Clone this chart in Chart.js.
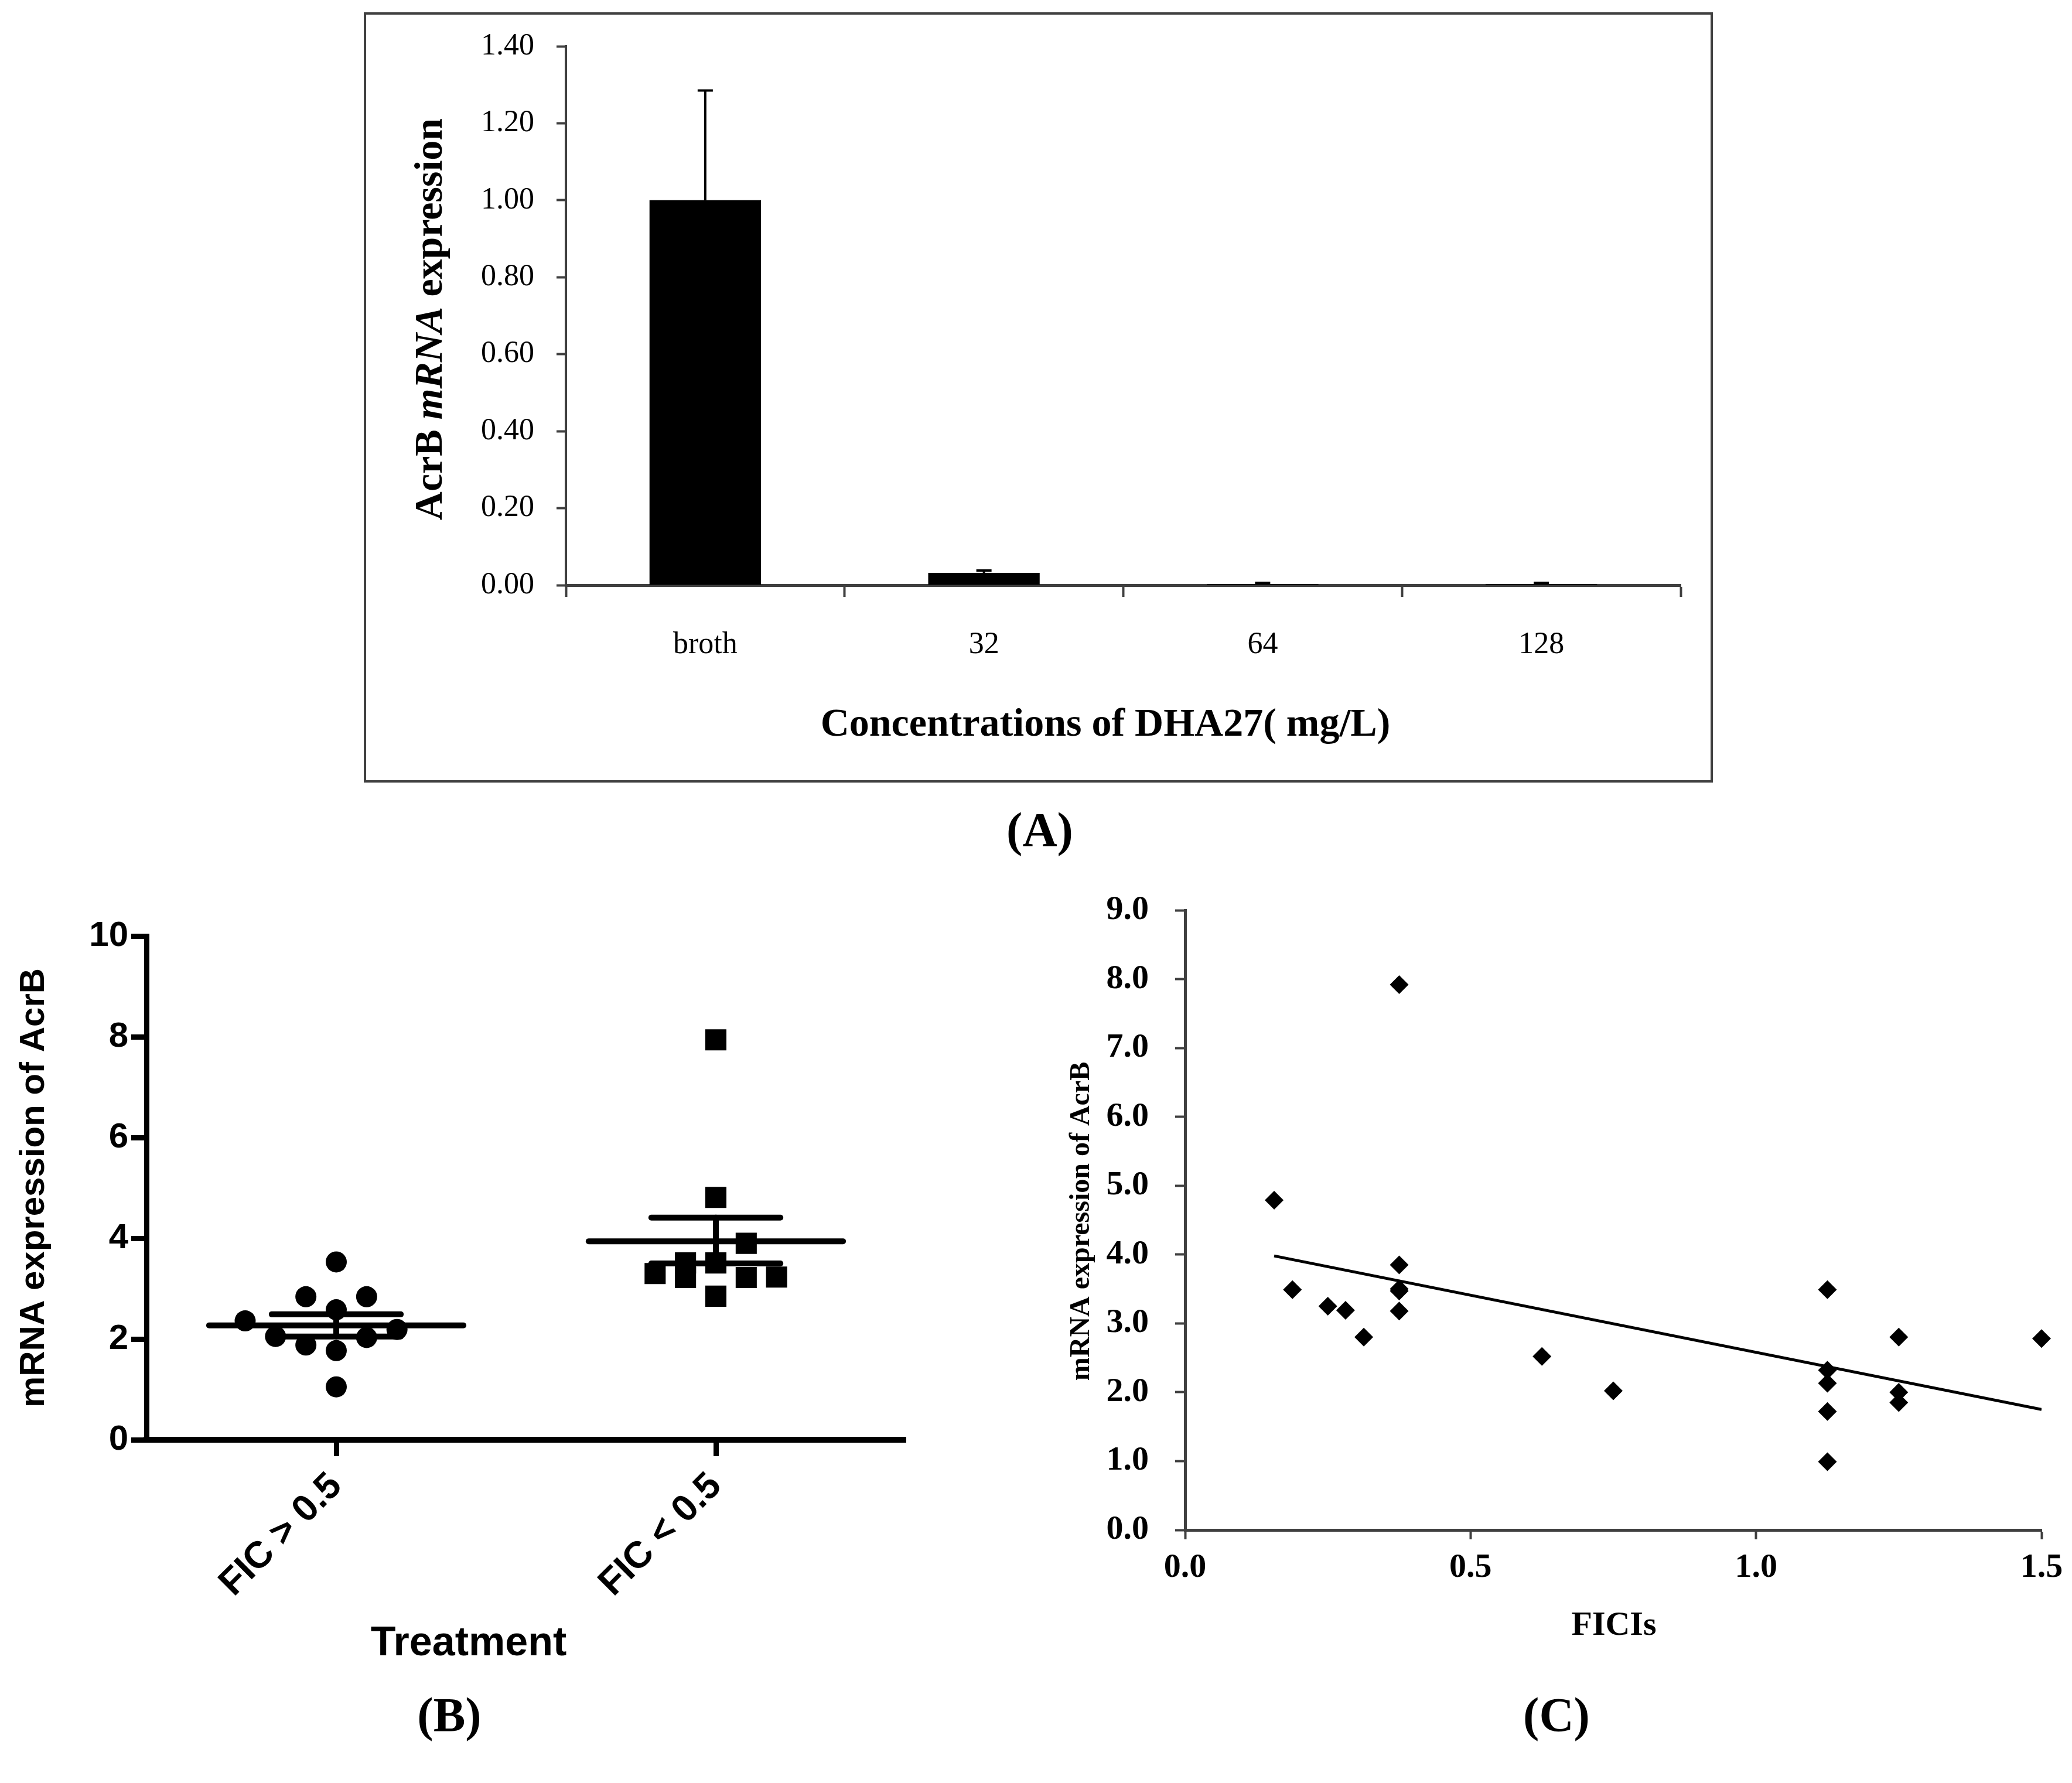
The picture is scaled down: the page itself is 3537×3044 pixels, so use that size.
<!DOCTYPE html>
<html>
<head>
<meta charset="utf-8">
<title>AcrB mRNA expression</title>
<script src="https://cdn.jsdelivr.net/npm/chart.js@4.4.1/dist/chart.umd.min.js"></script>
<style>
    html, body { margin: 0; padding: 0; background: #fff; }
    body { width: 3537px; height: 3044px; position: relative; overflow: hidden; }
    canvas { position: absolute; }
    .frame {
        position: absolute; left: 621px; top: 21px; width: 2303px; height: 1315px;
        box-sizing: border-box; border: 4px solid #404040;
    }
    .tag {
        position: absolute; transform: translate(-50%, -50%);
        font-family: 'Liberation Serif', serif; font-weight: bold; font-size: 82px; line-height: 1;
    }
</style>
</head>
<body>
<div class="frame"></div>
<canvas id="chartA" width="2295" height="1307" style="left:625px;top:25px"></canvas>
<canvas id="chartB" width="1700" height="1564" style="left:0px;top:1480px"></canvas>
<canvas id="chartC" width="1787" height="1564" style="left:1750px;top:1480px"></canvas>
<div class="tag" style="left:1775px;top:1417px">(A)</div>
<div class="tag" style="left:767px;top:2928px">(B)</div>
<div class="tag" style="left:2657px;top:2928px">(C)</div>

<script>
// ---- Panel A: AcrB expression vs DHA27 concentration ----
const concLabels = ['broth', '32', '64', '128'];
const acrbExpression = [1.00, 0.032, 0.003, 0.003];
const acrbError = [0.285, 0.006, 0.003, 0.003];

// ---- Panel B: expression by FIC group (x = group position incl. jitter) ----
const groupLabels = ['FIC > 0.5', 'FIC < 0.5'];
const ficHighX = [1.00, 0.92, 1.08, 1.00, 0.76, 0.84, 0.92, 1.00, 1.08, 1.16, 1.00];
const ficHighY = [3.53, 2.84, 2.84, 2.58, 2.36, 2.05, 1.88, 1.77, 2.03, 2.19, 1.05];
const ficLowX = [2.00, 2.00, 2.08, 1.92, 2.00, 1.84, 1.92, 2.08, 2.16, 2.00];
const ficLowY = [7.94, 4.81, 3.90, 3.51, 3.51, 3.30, 3.22, 3.22, 3.23, 2.85];
const groupMean = [2.27, 3.94];
const groupSemLow = [2.05, 3.50];
const groupSemHigh = [2.49, 4.41];

// ---- Panel C: expression vs FICI ----
const ficiValues = [0.156, 0.188, 0.25, 0.281, 0.313, 0.375, 0.375, 0.375, 0.375, 0.375,
    0.625, 0.75, 1.125, 1.125, 1.125, 1.125, 1.125, 1.25, 1.25, 1.25, 1.5];
const ficiExpression = [4.79, 3.49, 3.25, 3.19, 2.80, 7.92, 3.85, 3.50, 3.47, 3.18,
    2.52, 2.02, 3.49, 2.32, 2.13, 1.72, 0.99, 2.80, 2.00, 1.85, 2.78];
const trendX = [0.156, 1.5];
const trendY = [3.98, 1.75];

const SERIF = "'Liberation Serif', 'Times New Roman', serif";
const SANS = "'Liberation Sans', Arial, sans-serif";
const AXIS_GREY = '#404040';

// fix a scale's thickness so the plot area lands where the figure has it
function fixSize(prop, value) {
    return scale => {
        scale[prop] = value;
        scale.paddingLeft = scale.paddingRight = scale.paddingTop = scale.paddingBottom = 0;
    };
}

// draws text made of several differently styled parts, centred on x,y
function drawParts(ctx, parts, x, y, angle) {
    ctx.save();
    ctx.translate(x, y);
    ctx.rotate(angle || 0);
    ctx.textBaseline = 'middle';
    ctx.textAlign = 'left';
    ctx.fillStyle = '#000';
    let total = 0;
    parts.forEach(p => { ctx.font = p.font; total += ctx.measureText(p.text).width; });
    let cx = -total / 2;
    parts.forEach(p => {
        ctx.font = p.font;
        ctx.fillText(p.text, cx, 0);
        cx += ctx.measureText(p.text).width;
    });
    ctx.restore();
}

const axisTitles = {
    id: 'axisTitles',
    afterDraw(chart, args, opts) {
        (opts.items || []).forEach(item => drawParts(chart.ctx, item.parts, item.x, item.y, item.angle));
    }
};

const errorBars = {
    id: 'errorBars',
    afterDatasetsDraw(chart, args, opts) {
        if (!opts.values) return;
        const meta = chart.getDatasetMeta(0);
        const y = chart.scales.y;
        const ctx = chart.ctx;
        ctx.save();
        ctx.strokeStyle = '#000';
        ctx.lineWidth = opts.width;
        meta.data.forEach((bar, i) => {
            const top = y.getPixelForValue(opts.base[i] + opts.values[i]);
            ctx.beginPath();
            ctx.moveTo(bar.x, bar.y);
            ctx.lineTo(bar.x, top);
            ctx.moveTo(bar.x - opts.cap, top);
            ctx.lineTo(bar.x + opts.cap, top);
            ctx.stroke();
        });
        ctx.restore();
    }
};

Chart.register(axisTitles, errorBars);

const common = {
    responsive: false,
    animation: false,
    devicePixelRatio: 1,
    events: [],
};

// ---- Chart A ----
new Chart(document.getElementById('chartA'), {
    type: 'bar',
    data: {
        labels: concLabels,
        datasets: [{
            data: acrbExpression,
            backgroundColor: '#000',
            borderWidth: 0,
            barPercentage: 0.4,
            categoryPercentage: 1.0
        }]
    },
    options: {
        ...common,
        layout: { padding: { left: 60, right: 51, top: 54, bottom: 33 } },
        plugins: {
            legend: { display: false },
            tooltip: { enabled: false },
            errorBars: { values: acrbError, base: acrbExpression, width: 4, cap: 13 },
            axisTitles: {
                items: [
                    { x: 111, y: 520, angle: -Math.PI / 2, parts: [
                        { text: 'AcrB ', font: `bold 68px ${SERIF}` },
                        { text: 'mRNA', font: `italic bold 68px ${SERIF}` },
                        { text: ' expression', font: `bold 68px ${SERIF}` }
                    ] },
                    { x: 1262, y: 1213, parts: [
                        { text: 'Concentrations of DHA27( mg/L)', font: `bold 68px ${SERIF}` }
                    ] }
                ]
            }
        },
        scales: {
            x: {
                offset: true,
                afterFit: fixSize('height', 300),
                grid: { offset: true, drawOnChartArea: false, tickLength: 20, tickWidth: 4, tickColor: AXIS_GREY },
                border: { color: AXIS_GREY, width: 5 },
                ticks: { color: '#000', padding: 56, font: { family: SERIF, size: 52, lineHeight: 1 } }
            },
            y: {
                min: 0,
                max: 1.4,
                afterFit: fixSize('width', 281),
                grid: { drawOnChartArea: false, tickLength: 16, tickWidth: 4, tickColor: AXIS_GREY },
                border: { color: AXIS_GREY, width: 4 },
                ticks: {
                    stepSize: 0.2, color: '#000', padding: 38,
                    font: { family: SERIF, size: 52 },
                    callback: v => v.toFixed(2)
                }
            }
        }
    }
});

// ---- Chart B ----
const MEAN_HALF = 0.335;
const SEM_HALF = 0.17;

function segment(x0, x1, y0, y1) {
    return {
        type: 'line',
        data: [{ x: x0, y: y0 }, { x: x1, y: y1 }],
        showLine: true,
        borderColor: '#000',
        borderWidth: 10,
        borderCapStyle: 'round',
        pointRadius: 0,
        clip: false
    };
}

const groupSegments = [];
groupMean.forEach((m, i) => {
    const c = i + 1;
    groupSegments.push(segment(c - MEAN_HALF, c + MEAN_HALF, m, m));
    groupSegments.push(segment(c - SEM_HALF, c + SEM_HALF, groupSemHigh[i], groupSemHigh[i]));
    groupSegments.push(segment(c - SEM_HALF, c + SEM_HALF, groupSemLow[i], groupSemLow[i]));
    groupSegments.push(segment(c, c, groupSemLow[i], groupSemHigh[i]));
});

new Chart(document.getElementById('chartB'), {
    type: 'scatter',
    data: {
        datasets: [
            ...groupSegments,
            {
                data: ficHighX.map((x, i) => ({ x, y: ficHighY[i] })),
                pointStyle: 'circle', pointRadius: 18,
                backgroundColor: '#000', borderColor: '#000', borderWidth: 0, clip: false
            },
            {
                data: ficLowX.map((x, i) => ({ x, y: ficLowY[i] })),
                pointStyle: 'rect', pointRadius: 25.5,
                backgroundColor: '#000', borderColor: '#000', borderWidth: 0, clip: false
            }
        ]
    },
    options: {
        ...common,
        layout: { padding: { left: 0, right: 154, top: 118, bottom: 166 } },
        plugins: {
            legend: { display: false },
            tooltip: { enabled: false },
            axisTitles: {
                items: [
                    { x: 58, y: 548, angle: -Math.PI / 2, parts: [
                        { text: 'mRNA expression of AcrB', font: `bold 60px ${SANS}` }
                    ] },
                    { x: 800, y: 1327, parts: [
                        { text: 'Treatment', font: `bold 70px ${SANS}` }
                    ] }
                ]
            }
        },
        scales: {
            x: {
                type: 'linear',
                min: 0.5,
                max: 2.5,
                afterFit: fixSize('height', 420),
                afterBuildTicks: scale => { scale.ticks = groupLabels.map((_, i) => ({ value: i + 1 })); },
                grid: { drawOnChartArea: false, tickLength: 28, tickWidth: 9, tickColor: '#000' },
                border: { color: '#000', width: 10 },
                ticks: {
                    autoSkip: false, minRotation: 45, maxRotation: 45, padding: 14, color: '#000',
                    font: { family: SANS, size: 64, weight: 'bold' },
                    callback: v => groupLabels[v - 1]
                }
            },
            y: {
                min: 0,
                max: 10,
                afterFit: fixSize('width', 250),
                grid: { drawOnChartArea: false, tickLength: 26, tickWidth: 9, tickColor: '#000' },
                border: { color: '#000', width: 9 },
                ticks: {
                    stepSize: 2, padding: 5, color: '#000',
                    font: { family: SANS, size: 60, weight: 'bold' }
                }
            }
        }
    }
});

// ---- Chart C ----
new Chart(document.getElementById('chartC'), {
    type: 'scatter',
    data: {
        datasets: [
            {
                data: ficiValues.map((x, i) => ({ x, y: ficiExpression[i] })),
                pointStyle: 'rectRot', pointRadius: 16,
                backgroundColor: '#000', borderColor: '#000', borderWidth: 0, clip: false
            },
            {
                type: 'line',
                data: trendX.map((x, i) => ({ x, y: trendY[i] })),
                showLine: true, borderColor: '#000', borderWidth: 5, pointRadius: 0
            }
        ]
    },
    options: {
        ...common,
        layout: { padding: { left: 0, right: 52, top: 74, bottom: 182 } },
        plugins: {
            legend: { display: false },
            tooltip: { enabled: false },
            axisTitles: {
                items: [
                    { x: 97, y: 605, angle: -Math.PI / 2, parts: [
                        { text: 'mRNA expression of AcrB', font: `bold 48px ${SERIF}` }
                    ] },
                    { x: 1005, y: 1296, parts: [
                        { text: 'FICIs', font: `bold 58px ${SERIF}` }
                    ] }
                ]
            }
        },
        scales: {
            x: {
                type: 'linear',
                min: 0,
                max: 1.5,
                afterFit: fixSize('height', 250),
                grid: { drawOnChartArea: false, tickLength: 16, tickWidth: 4, tickColor: AXIS_GREY },
                border: { color: AXIS_GREY, width: 5 },
                ticks: {
                    stepSize: 0.5, padding: 20, color: '#000',
                    font: { family: SERIF, size: 58, weight: 'bold', lineHeight: 1 },
                    callback: v => v.toFixed(1)
                }
            },
            y: {
                min: 0,
                max: 9,
                afterFit: fixSize('width', 273),
                grid: { drawOnChartArea: false, tickLength: 17, tickWidth: 4, tickColor: AXIS_GREY },
                border: { color: AXIS_GREY, width: 5 },
                ticks: {
                    stepSize: 1, padding: 45, color: '#000',
                    font: { family: SERIF, size: 58, weight: 'bold' },
                    callback: v => v.toFixed(1)
                }
            }
        }
    }
});
</script>
</body>
</html>
